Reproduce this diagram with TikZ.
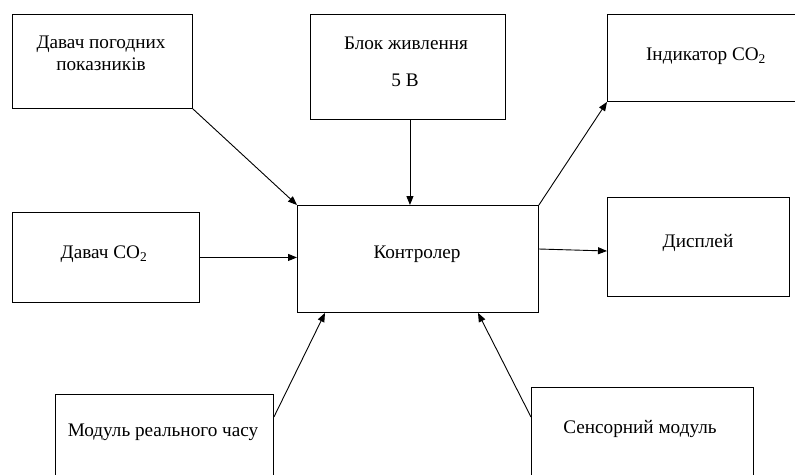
\documentclass[tikz,border=0pt]{standalone}
\usepackage{fontspec}
\setmainfont{Liberation Serif}
\usetikzlibrary{arrows.meta,calc}
\begin{document}
\begin{tikzpicture}[x=1pt,y=-1pt,
  box/.style={draw, line width=0.9pt, inner sep=0pt, anchor=north west},
  lbl/.style={font=\fontsize{19.2}{23}\selectfont, inner sep=0pt, anchor=base},
  arr/.style={line width=0.9pt, -{Triangle[length=9pt,width=7pt]}}]
\useasboundingbox (0,0) rectangle (795,474);
\fill[white] (0,0) rectangle (795,474);
\clip (0,0) rectangle (795,474);
% boxes
\node[box, minimum width=180, minimum height=94] (b1) at (12,14) {};
\node[box, minimum width=195, minimum height=105] (b2) at (310,14) {};
\node[box, minimum width=200, minimum height=87] (b3) at (607,14) {};
\node[box, minimum width=187, minimum height=90] (b4) at (12,212) {};
\node[box, minimum width=241, minimum height=107] (ctrl) at (297,205) {};
\node[box, minimum width=182, minimum height=99] (b6) at (607,197) {};
\node[box, minimum width=218, minimum height=120] (b7) at (55,394) {};
\node[box, minimum width=222, minimum height=120] (b8) at (531,387) {};
% labels
\node[lbl] (t1a) at (101,48) {Давач погодних};
\node[lbl] (t1b) at (101,70) {показників};
\node[lbl] (t2a) at (406,49) {Блок живлення};
\node[lbl] (t2b) at (405,86) {5 В};
\node[lbl] (t3) at (706,60) {Індикатор CO\textsubscript{2}};
\node[lbl] (t4) at (104,258) {Давач CO\textsubscript{2}};
\node[lbl] (tc) at (417,258) {Контролер};
\node[lbl] (t6) at (698,247) {Дисплей};
\node[lbl] (t7) at (163,436) {Модуль реального часу};
\node[lbl] (t8) at (640,433) {Сенсорний модуль};
% connectors
\draw[arr] (b1.south east) -- (ctrl.north west);
\draw[arr] ($(b2.south)+(2,0)$) -- ($(b2.south |- ctrl.north)+(2,0)$);
\draw[arr] (ctrl.north east) -- (b3.south west);
\draw[arr] (b4.east) -- (b4.east -| ctrl.west);
\draw[arr] ($(ctrl.north east)+(0,44)$) -- ($(b6.north west)+(0,54)$);
\draw[arr] ($(b7.north east)+(0,23)$) -- ($(ctrl.south west)+(28,0)$);
\draw[arr] ($(b8.north west)+(0,30)$) -- ($(ctrl.south west)+(181,0)$);
\end{tikzpicture}
\end{document}
